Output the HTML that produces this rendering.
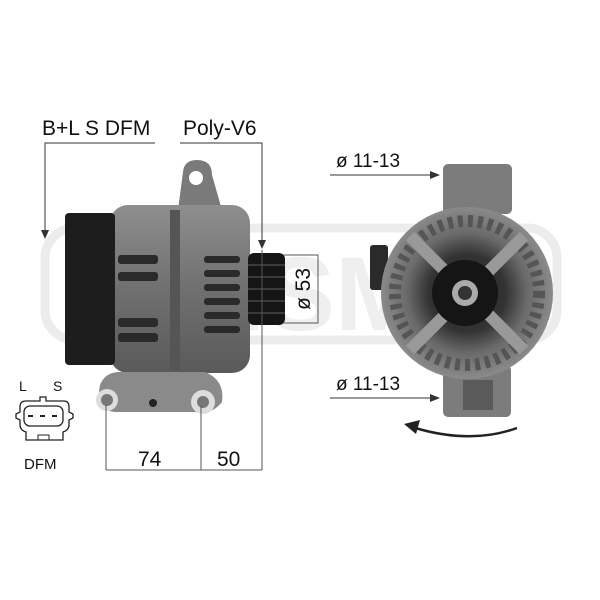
<!DOCTYPE html>
<html><head><style>
html,body{margin:0;padding:0;background:#fff;}
svg{display:block;}
text{font-family:"Liberation Sans",sans-serif;fill:#111;}
</style></head><body>
<svg width="600" height="600" viewBox="0 0 600 600" xmlns="http://www.w3.org/2000/svg">
<defs>
<linearGradient id="g1" x1="0" y1="0" x2="0" y2="1"><stop offset="0" stop-color="#8e8e8e"/><stop offset="0.5" stop-color="#707070"/><stop offset="1" stop-color="#5a5a5a"/></linearGradient>
<radialGradient id="g2" cx="0.5" cy="0.5" r="0.5"><stop offset="0" stop-color="#222"/><stop offset="0.45" stop-color="#333"/><stop offset="0.7" stop-color="#6a6a6a"/><stop offset="1" stop-color="#8a8a8a"/></radialGradient>
</defs>
<!-- watermark -->
<rect x="45" y="228" width="512" height="112" rx="30" fill="none" stroke="#ececec" stroke-width="9"/>
<text x="300" y="330" font-size="105" font-weight="bold" text-anchor="middle" style="fill:#efefef">MSM</text>

<!-- labels top -->
<text x="42" y="135" font-size="21">B+L S DFM</text>
<text x="183" y="135" font-size="21">Poly-V6</text>
<polyline points="155,143 45,143 45,232" fill="none" stroke="#333" stroke-width="1"/>
<polygon points="41,230 49,230 45,239" fill="#333"/>
<polyline points="180,143 262,143 262,242" fill="none" stroke="#333" stroke-width="1"/>
<polygon points="258,240 266,240 262,249" fill="#333"/>

<!-- left alternator -->
<path d="M183,172 Q184,160 197,160 Q212,160 212,175 L222,210 L178,210 Z" fill="#7a7a7a"/>
<circle cx="196" cy="178" r="7" fill="#fff"/>
<rect x="110" y="205" width="140" height="168" rx="18" fill="url(#g1)"/>
<rect x="170" y="210" width="10" height="160" fill="#555"/>
<g fill="#2a2a2a">
<rect x="118" y="255" width="40" height="9" rx="3"/><rect x="118" y="272" width="40" height="9" rx="3"/>
<rect x="118" y="318" width="40" height="9" rx="3"/><rect x="118" y="333" width="40" height="9" rx="3"/>
<rect x="204" y="256" width="36" height="7" rx="3"/><rect x="204" y="270" width="36" height="7" rx="3"/><rect x="204" y="284" width="36" height="7" rx="3"/><rect x="204" y="298" width="36" height="7" rx="3"/><rect x="204" y="312" width="36" height="7" rx="3"/><rect x="204" y="326" width="36" height="7" rx="3"/>
</g>
<rect x="65" y="213" width="50" height="152" rx="4" fill="#1d1d1d"/>
<rect x="248" y="253" width="37" height="72" rx="6" fill="#151515"/>
<g stroke="#3a3a3a" stroke-width="2"><line x1="248" y1="265" x2="285" y2="265"/><line x1="248" y1="277" x2="285" y2="277"/><line x1="248" y1="289" x2="285" y2="289"/><line x1="248" y1="301" x2="285" y2="301"/><line x1="248" y1="313" x2="285" y2="313"/></g>
<path d="M100,385 Q105,372 120,372 L205,372 Q225,380 222,402 Q212,415 195,412 L115,412 Q95,410 100,385 Z" fill="#8a8a8a"/>
<circle cx="107" cy="400" r="11" fill="#ddd"/><circle cx="107" cy="400" r="6" fill="#777"/>
<circle cx="203" cy="402" r="12" fill="#ddd"/><circle cx="203" cy="402" r="6" fill="#777"/>
<circle cx="153" cy="403" r="4" fill="#222"/>

<!-- dimensions -->
<g stroke="#555" stroke-width="1" fill="none">
<line x1="106" y1="405" x2="106" y2="470"/><line x1="201" y1="405" x2="201" y2="470"/><line x1="262" y1="250" x2="262" y2="470"/>
<line x1="106" y1="470" x2="262" y2="470"/>
<polyline points="283,255 318,255 318,323 283,323"/>
</g>
<text x="138" y="466" font-size="21">74</text>
<text x="217" y="466" font-size="21">50</text>
<text transform="translate(310,310) rotate(-90)" font-size="21">ø 53</text>

<!-- connector icon -->
<text x="19" y="391" font-size="14">L</text>
<text x="53" y="391" font-size="14">S</text>
<path d="M40,397 L46,397 L46,401 L64,401 Q69,401 69,407 L69,412 L73,414 L73,418 L69,420 L69,425 Q69,430 63,432 L63,440 L26,440 L26,432 Q20,430 20,425 L20,420 L16,418 L16,414 L20,412 L20,407 Q20,401 26,401 L40,401 Z" fill="none" stroke="#222" stroke-width="1.3"/>
<rect x="24" y="406" width="39" height="20" rx="6" fill="none" stroke="#222" stroke-width="1.3"/>
<g stroke="#222" stroke-width="2"><line x1="28" y1="416" x2="33" y2="416"/><line x1="40" y1="416" x2="45" y2="416"/><line x1="52" y1="416" x2="57" y2="416"/></g>
<rect x="38" y="435" width="11" height="5" fill="none" stroke="#222"/>
<text x="24" y="469" font-size="15">DFM</text>

<!-- right view -->
<text x="336" y="167" font-size="19">ø 11-13</text>
<line x1="330" y1="175" x2="432" y2="175" stroke="#333"/><polygon points="430,171 440,175 430,179" fill="#333"/>
<text x="336" y="390" font-size="19">ø 11-13</text>
<line x1="330" y1="398" x2="432" y2="398" stroke="#333"/><polygon points="430,394 440,398 430,402" fill="#333"/>
<path d="M517,428 Q470,445 412,427" fill="none" stroke="#222" stroke-width="2.5"/>
<polygon points="404,424 420,420 416,434" fill="#222"/>

<rect x="443" y="164" width="69" height="50" rx="5" fill="#7c7c7c"/>
<rect x="443" y="365" width="68" height="52" rx="5" fill="#7c7c7c"/>
<rect x="463" y="380" width="30" height="30" fill="#5a5a5a"/>
<rect x="370" y="245" width="18" height="45" rx="3" fill="#2a2a2a"/>
<circle cx="467" cy="293" r="86" fill="url(#g2)"/>
<circle cx="467" cy="293" r="72" fill="none" stroke="#555" stroke-width="12" stroke-dasharray="5 5"/>
<g stroke="#999" stroke-width="12"><line x1="410" y1="236" x2="524" y2="350"/><line x1="524" y1="236" x2="410" y2="350"/></g>
<circle cx="465" cy="293" r="33" fill="#151515"/>
<circle cx="465" cy="293" r="13" fill="#aaa"/>
<circle cx="465" cy="293" r="7" fill="#333"/>
</svg>
</body></html>
